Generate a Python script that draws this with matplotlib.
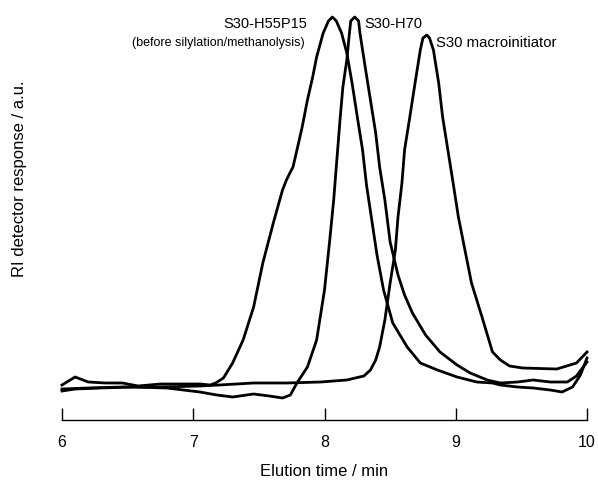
import matplotlib
matplotlib.use("Agg")
import matplotlib.pyplot as plt

plt.rcParams['font.family'] = ['Liberation Sans', 'DejaVu Sans']

# S30-H55P15 (before silylation/methanolysis)
t_a = [6.00, 6.10, 6.20, 6.33, 6.46, 6.58, 6.75, 6.90, 7.05, 7.13, 7.17, 7.23,
       7.30, 7.38, 7.46, 7.53, 7.61, 7.68, 7.71, 7.74, 7.76, 7.79, 7.83, 7.87,
       7.91, 7.94, 7.99, 8.03, 8.06, 8.09, 8.13, 8.17, 8.21, 8.25, 8.29, 8.32,
       8.36, 8.40, 8.45, 8.52, 8.63, 8.73, 8.86, 9.01, 9.16, 9.28, 9.34, 9.47,
       9.59, 9.72, 9.81, 9.89, 9.95, 10.0]
r_a = [35, 43, 38, 37, 37, 34, 36, 36, 36, 35, 37, 42,
       57, 80, 113, 157, 197, 230, 240, 248, 253, 270, 293, 320,
       343, 363, 387, 399, 403, 399, 387, 367, 337, 303, 270, 235,
       200, 165, 130, 97, 73, 57, 50, 43, 38, 37, 35, 33,
       32, 30, 28, 33, 45, 62]

# S30-H70
t_b = [6.00, 6.10, 6.29, 6.54, 6.80, 7.05, 7.18, 7.30, 7.46, 7.58, 7.68, 7.74,
       7.79, 7.87, 7.94, 8.00, 8.04, 8.07, 8.10, 8.12, 8.14, 8.17, 8.19, 8.20,
       8.23, 8.26, 8.27, 8.31, 8.35, 8.39, 8.42, 8.46, 8.50, 8.56, 8.61, 8.67,
       8.77, 8.88, 9.01, 9.11, 9.24, 9.34, 9.47, 9.59, 9.72, 9.85, 9.92, 10.0]
r_b = [29, 31, 32, 33, 32, 28, 25, 23, 26, 24, 22, 25,
       37, 53, 80, 130, 180, 220, 270, 303, 333, 360, 387, 399,
       403, 399, 387, 353, 320, 287, 253, 220, 178, 145, 125, 107,
       85, 68, 55, 47, 40, 37, 38, 40, 38, 38, 44, 58]

# S30 macroinitiator
t_c = [6.00, 6.20, 6.46, 6.75, 7.05, 7.20, 7.46, 7.71, 7.97, 8.17, 8.30, 8.35,
       8.39, 8.42, 8.46, 8.50, 8.54, 8.56, 8.59, 8.61, 8.65, 8.69, 8.73, 8.75,
       8.78, 8.80, 8.83, 8.87, 8.90, 8.94, 8.98, 9.02, 9.07, 9.12, 9.20, 9.28,
       9.34, 9.41, 9.51, 9.77, 9.92, 10.0]
r_c = [31, 32, 33, 33, 34, 35, 37, 37, 38, 40, 44, 50,
       60, 73, 100, 137, 170, 203, 237, 270, 303, 337, 370, 382,
       385, 382, 370, 337, 303, 270, 237, 203, 170, 137, 103, 68,
       60, 54, 52, 51, 57, 68]

xticks = [6, 7, 8, 9, 10]

fig = plt.figure(figsize=(5.98, 4.8), dpi=100)
ax = fig.add_axes([62 / 598, 60 / 480, 525 / 598, 420 / 480])

for t, r in [(t_a, r_a), (t_b, r_b), (t_c, r_c)]:
    ax.plot(t, r, color='black', lw=2.0, solid_joinstyle='round', clip_on=False)

ax.set_xlim(6, 10)
ax.set_ylim(0, 420)
ax.set_xticks(xticks)
ax.set_xticklabels([str(v) for v in xticks], fontsize=11.5)
ax.set_yticks([])
for s in ['left', 'right', 'top']:
    ax.spines[s].set_visible(False)
ax.spines['bottom'].set_linewidth(1.0)
ax.tick_params(axis='x', direction='in', length=9, width=1.0, pad=11)
ax.set_xlabel('Elution time / min', fontsize=12, labelpad=10)
fig.text(20 / 598, 1 - 179 / 480, 'RI detector response / a.u.', rotation=90,
         ha='center', va='center', fontsize=12)

ax.text(7.867, 396, 'S30-H55P15', ha='right', va='center', fontsize=10.5)
ax.text(7.851, 377, '(before silylation/methanolysis)', ha='right', va='center',
        fontsize=9)
ax.text(8.30, 396, 'S30-H70', ha='left', va='center', fontsize=10.5)
ax.text(8.85, 377, 'S30 macroinitiator', ha='left', va='center', fontsize=10.7)

fig.savefig('out.png', dpi=100)
